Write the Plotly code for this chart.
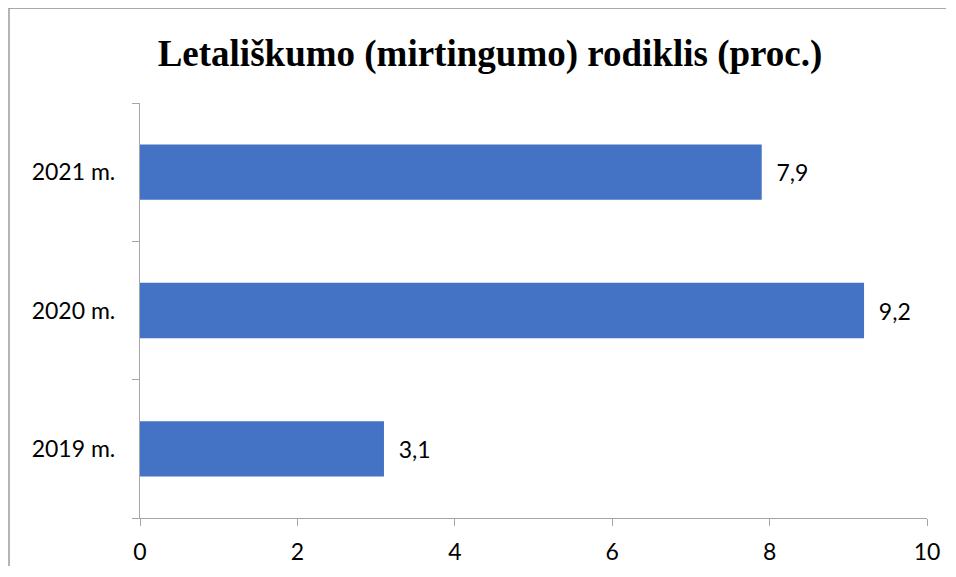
import plotly.graph_objects as go

categories = ["2019 m.", "2020 m.", "2021 m."]
values = [3.1, 9.2, 7.9]
x_ticks = [0, 2, 4, 6, 8, 10]

# page body has an 8px margin, so figure coords = reference coords - 8;
# keep the figure small enough that the page does not scroll
W, H = 938, 558
L, R, T, B = 132, 19, 95, 48
pw, ph = W - L - R, H - T - B

FONT = "Lato, Open Sans, sans-serif"

fig = go.Figure(go.Bar(
    y=categories, x=values, orientation="h",
    marker=dict(color="#4472C4", line=dict(width=0)),
    width=0.4,
    texttemplate="\u00a0\u00a0%{x:.1f}", textposition="outside",
    textfont=dict(family=FONT, size=23, color="#000000"),
    cliponaxis=False,
))

fig.update_layout(
    width=W, height=H,
    margin=dict(l=L, r=R, t=T, b=B, pad=0, autoexpand=False),
    paper_bgcolor="white", plot_bgcolor="white",
    separators=",.",
    showlegend=False,
    title=dict(text="<b>Letališkumo (mirtingumo) rodiklis (proc.)</b>",
               x=482 / W, xanchor="center", y=1 - 45 / H, yanchor="middle",
               font=dict(family="Liberation Serif, Times New Roman, serif", size=37, color="#000000")),
    xaxis=dict(range=[0, 10], tickvals=x_ticks, showgrid=False, zeroline=False,
               showline=True, linecolor="#A6A6A6", linewidth=1.3,
               ticks="outside", ticklen=7, tickcolor="#A6A6A6",
               ticklabelstandoff=6,
               tickfont=dict(family=FONT, size=23, color="#000000"),
               fixedrange=True),
    yaxis=dict(showgrid=False, zeroline=False, showline=True, linecolor="#A6A6A6", linewidth=1.3,
               ticks="outside", ticklen=7, tickcolor="#A6A6A6", tickson="boundaries",
               ticklabelstandoff=19,
               tickfont=dict(family=FONT, size=23, color="#000000"),
               fixedrange=True),
)

# chart-area border: only its left and top edges fall inside the window
bx0 = (1 - L) / pw
by_top = (H - B) / ph
by_bot = -(B + 2) / ph
bx_right = (W + 2 - L) / pw
fig.add_shape(type="line", xref="paper", yref="paper",
              x0=bx0, x1=bx0, y0=by_bot, y1=by_top,
              line=dict(color="#8C8C8C", width=1.3), layer="below")
fig.add_shape(type="line", xref="paper", yref="paper",
              x0=bx0, x1=bx_right, y0=by_top, y1=by_top,
              line=dict(color="#8C8C8C", width=1.3), layer="below")

fig.write_html("out.html")
